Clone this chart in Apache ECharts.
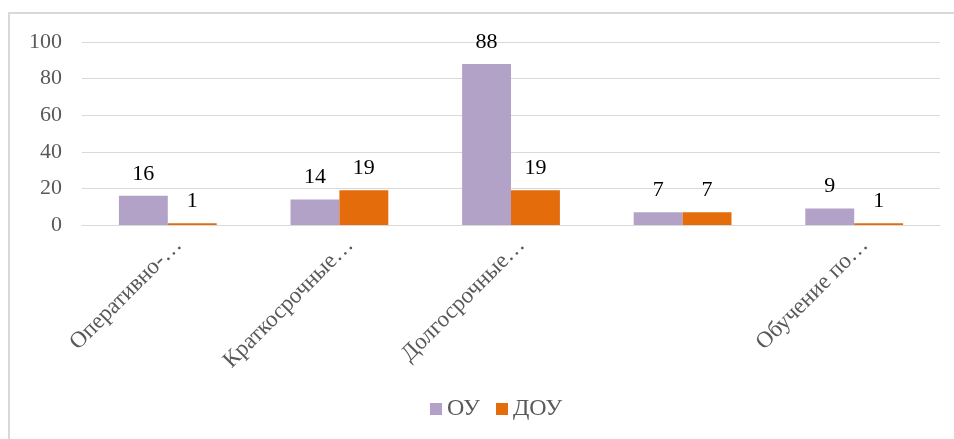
<!DOCTYPE html>
<html>
<head>
<meta charset="utf-8">
<script src="https://cdn.jsdelivr.net/npm/echarts@6/dist/echarts.min.js"></script>
<style>
html,body{margin:0;padding:0;background:#fff;}
#chart{width:954px;height:439px;}
</style>
</head>
<body>
<div id="chart"></div>
<script>
var categories = ['Оперативно-…', 'Краткосрочные…', 'Долгосрочные…', '', 'Обучение по…'];
var seriesOU = [16, 14, 88, 7, 9];
var seriesDOU = [1, 19, 19, 7, 1];
var yTicks = [0, 20, 40, 60, 80, 100];

var myChart = echarts.init(document.getElementById('chart'));
var font = '"Liberation Serif", "Times New Roman", serif';

var option = {
    animation: false,
    graphic: [
        {
            type: 'rect',
            shape: {x: 9, y: 13, width: 960, height: 440},
            style: {fill: 'none', stroke: '#d9d9d9', lineWidth: 2}
        }
    ],
    legend: {
        bottom: 13,
        left: 425,
        itemWidth: 12,
        itemHeight: 12,
        itemGap: 16,
        icon: 'rect',
        textStyle: {fontFamily: font, fontSize: 24, color: '#595959'},
        data: ['ОУ', 'ДОУ']
    },
    grid: {
        left: 82,
        right: 14,
        top: 42,
        bottom: 214
    },
    xAxis: {
        type: 'category',
        data: categories,
        axisLine: {lineStyle: {color: '#d9d9d9'}},
        axisTick: {show: false},
        axisLabel: {
            interval: 0,
            rotate: 45,
            margin: 6,
            verticalAlign: 'top',
            lineHeight: 30,
            fontFamily: font,
            fontSize: 23,
            color: '#595959'
        }
    },
    yAxis: {
        type: 'value',
        min: yTicks[0],
        max: yTicks[yTicks.length - 1],
        interval: 20,
        axisLine: {show: false},
        axisTick: {show: false},
        splitLine: {lineStyle: {color: '#d9d9d9'}},
        axisLabel: {
            margin: 20,
            fontFamily: font,
            fontSize: 22,
            color: '#595959'
        }
    },
    series: [
        {
            name: 'ОУ',
            type: 'bar',
            data: seriesOU,
            barGap: '0%',
            barCategoryGap: '43%',
            itemStyle: {color: '#b3a2c7'},
            label: {show: true, position: 'top', distance: 11, fontFamily: font, fontSize: 22, color: '#000'}
        },
        {
            name: 'ДОУ',
            type: 'bar',
            data: seriesDOU,
            itemStyle: {color: '#e46c0a'},
            label: {show: true, position: 'top', distance: 11, fontFamily: font, fontSize: 22, color: '#000'}
        }
    ]
};
myChart.setOption(option);
</script>
</body>
</html>
